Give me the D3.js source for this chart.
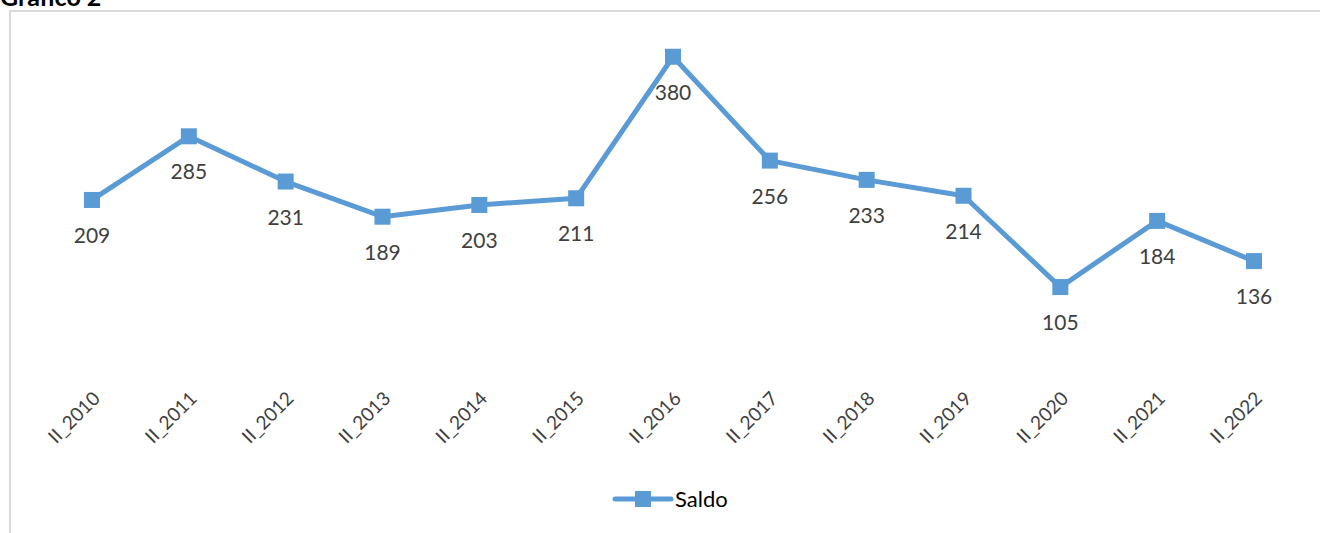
<!DOCTYPE html>
<html>
<head>
<meta charset="utf-8">
<script src="https://cdnjs.cloudflare.com/ajax/libs/d3/7.8.5/d3.min.js"></script>
<style>
  body { margin: 0; background: #fff; }
  svg { display: block; font-family: Lato, "Open Sans", sans-serif; }
</style>
</head>
<body>
<div id="chart"></div>
<script>
var categories = ["II_2010", "II_2011", "II_2012", "II_2013", "II_2014", "II_2015", "II_2016",
                  "II_2017", "II_2018", "II_2019", "II_2020", "II_2021", "II_2022"];
var saldo = [209, 285, 231, 189, 203, 211, 380, 256, 233, 214, 105, 184, 136];
var seriesName = "Saldo";
var title = "Gráfico 2";

var width = 1320;
var height = 533;
var blue = "#5B9BD5";

var svg = d3.select("#chart")
    .append("svg")
    .attr("width", width)
    .attr("height", height);

// title, cut off at the top like the original
svg.append("text")
    .attr("x", 0)
    .attr("y", 6)
    .attr("font-size", "25px")
    .attr("font-weight", "bold")
    .attr("fill", "#000")
    .text(title);

// chart frame
svg.append("rect")
    .attr("x", 10)
    .attr("y", 11)
    .attr("width", width + 10)
    .attr("height", height + 10)
    .attr("fill", "none")
    .attr("stroke", "#d9d9d9")
    .attr("stroke-width", 2);

var x = d3.scalePoint()
    .domain(categories)
    .range([92, 1254]);

var y = d3.scaleLinear()
    .domain([0, 400])
    .range([375, 40]);

var line = d3.line()
    .x(function(d, i) { return x(categories[i]); })
    .y(function(d) { return y(d); });

svg.append("path")
    .datum(saldo)
    .attr("d", line)
    .attr("fill", "none")
    .attr("stroke", blue)
    .attr("stroke-width", 5)
    .attr("stroke-linejoin", "round");

svg.selectAll("rect.marker")
    .data(saldo)
    .enter()
    .append("rect")
    .attr("class", "marker")
    .attr("x", function(d, i) { return x(categories[i]) - 8; })
    .attr("y", function(d) { return y(d) - 8; })
    .attr("width", 16)
    .attr("height", 16)
    .attr("fill", blue);

svg.selectAll("text.value")
    .data(saldo)
    .enter()
    .append("text")
    .attr("class", "value")
    .attr("x", function(d, i) { return x(categories[i]); })
    .attr("y", function(d) { return y(d) + 43; })
    .attr("text-anchor", "middle")
    .attr("font-size", "21px")
    .attr("fill", "#404040")
    .text(function(d) { return d; });

// x axis labels, rotated
var xAxis = d3.axisBottom(x).tickSize(0).tickPadding(0);
var gx = svg.append("g")
    .attr("transform", "translate(0,395)")
    .call(xAxis);
gx.select(".domain").remove();
gx.selectAll("text")
    .attr("font-size", "19px")
    .attr("font-family", "Lato, 'Open Sans', sans-serif")
    .attr("fill", "#404040")
    .attr("text-anchor", "end")
    .attr("dy", "0.35em")
    .attr("transform", "translate(4,0) rotate(-45)");

// legend
var legend = svg.append("g").attr("transform", "translate(615,499)");
legend.append("line")
    .attr("x1", 0).attr("x2", 56)
    .attr("y1", 0).attr("y2", 0)
    .attr("stroke", blue)
    .attr("stroke-width", 5)
    .attr("stroke-linecap", "round");
legend.append("rect")
    .attr("x", 20).attr("y", -8)
    .attr("width", 16).attr("height", 16)
    .attr("fill", blue);
legend.append("text")
    .attr("x", 60)
    .attr("y", 0)
    .attr("dy", "0.35em")
    .attr("font-size", "22px")
    .attr("fill", "#000")
    .text(seriesName);
</script>
</body>
</html>
